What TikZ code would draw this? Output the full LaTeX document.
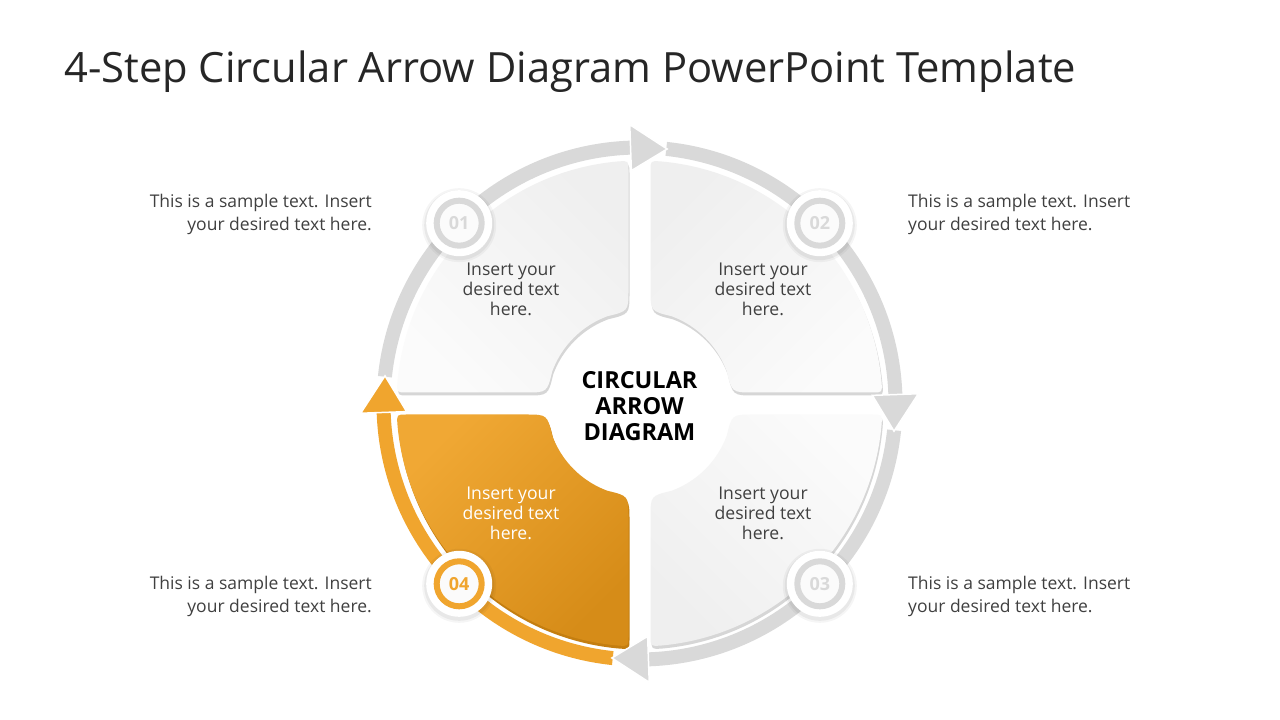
\documentclass[tikz,border=0pt]{standalone}
\usepackage{fontspec}
\setmainfont{Open Sans}
\usetikzlibrary{positioning}
\definecolor{ringgray}{HTML}{D9D9D9}
\definecolor{ringorange}{HTML}{F0A52E}
\definecolor{txtgray}{HTML}{404040}
\definecolor{titlegray}{HTML}{262626}
\definecolor{panellight}{HTML}{FBFBFB}
\definecolor{paneldark}{HTML}{EFEFEF}
\definecolor{panelshadow}{HTML}{D6D6D6}
\definecolor{orangelight}{HTML}{F0A834}
\definecolor{orangedark}{HTML}{D68C18}
\definecolor{orangeshadow}{HTML}{C47E10}
% one quarter panel, first quadrant, centre at origin
\newcommand{\panelshape}{(11,114.35) -- (11,232.75) .. controls (11,242.75) .. (21.0,242.1)
  arc[start angle=85.04,end angle=4.96,radius=243] .. controls (242.75,11) .. (232.75,11)
  -- (114.35,11) .. controls (92.35,11) .. (87.20,32.34)
  arc[start angle=20.35,end angle=69.65,radius=93] .. controls (11,92.35) .. (11,114.35) -- cycle}

\begin{document}
\begin{tikzpicture}[x=1pt,y=1pt,
  sidetext/.style={font=\fontsize{17.5}{23}\selectfont,text=txtgray,inner sep=0pt},
  paneltext/.style={font=\fontsize{17.6}{20}\selectfont,text=txtgray,align=center,inner sep=0pt},
  hubtext/.style={font=\fontsize{23.5}{26}\selectfont\bfseries,text=black,align=center,inner sep=0pt},
  ringline/.style={line width=14pt},
  badge/.style={circle,minimum size=45pt,line width=6pt,fill=panellight,inner sep=0pt,
    font=\fontsize{18}{20}\selectfont\bfseries}]
  \useasboundingbox (0,0) rectangle (1280,720);
  \fill[white] (0,0) rectangle (1280,720);
  \coordinate (c) at (639.5,316.5);

  \node[anchor=north west,inner sep=0pt,text=titlegray,font=\fontsize{41.7}{48}\selectfont] (title)
    at (64,669) {4-Step Circular Arrow Diagram PowerPoint Template};

  % quadrant panels
  \foreach \sx/\sy/\ang/\lite/\dark/\shade in {-1/1/-45/panellight/paneldark/panelshadow,
      1/1/45/panellight/paneldark/panelshadow,
      1/-1/135/panellight/paneldark/panelshadow,
      -1/-1/-135/orangelight/orangedark/orangeshadow}{
    \begin{scope}[shift={(640.5,313.5)},xscale=\sx,yscale=\sy]
      \fill[\shade] \panelshape;
    \end{scope}
    \begin{scope}[shift={(c)},xscale=\sx,yscale=\sy]
      \path[top color=\dark,bottom color=\lite,shading angle=\ang] \panelshape;
    \end{scope}
  }

  % ring arcs, then heads
  \foreach \b/\col in {90/ringgray,0/ringgray,-90/ringgray,-180/ringorange}
    \draw[ringline,\col] ([shift={(\b+84:256)}]c) arc[start angle=\b+84,end angle=\b-1,radius=256];
  \foreach \b/\col in {90/ringgray,0/ringgray,-90/ringgray,-180/ringorange}
    \fill[\col,draw=white,line width=1.5pt,line join=miter]
      ([shift={(\b+2:279)}]c) -- ([shift={(\b-6.2:256)}]c) -- ([shift={(\b+2:233)}]c) -- cycle;

  % badges
  \foreach \a/\num/\col in {135/01/ringgray,45/02/ringgray,-45/03/ringgray,225/04/ringorange}{
    \fill[black,opacity=0.04] ([shift={(\a:255)}]c) ++(0,-2) circle[radius=37];
    \fill[black,opacity=0.05] ([shift={(\a:255)}]c) ++(0,-2) circle[radius=35];
    \fill[white] ([shift={(\a:255)}]c) circle[radius=33];
    \node[badge,draw=\col,text=\col] (badge\num) at ([shift={(\a:255)}]c) {\num};
  }

  \node[hubtext] (hub) at (639.5,314) {CIRCULAR\\ARROW\\DIAGRAM};

  \node[paneltext] (step1) at (511,431) {Insert your\\desired text\\here.};
  \node[paneltext] (step2) at (763,431) {Insert your\\desired text\\here.};
  \node[paneltext] (step3) at (763,207) {Insert your\\desired text\\here.};
  \node[paneltext,text=white] (step4) at (511,207) {Insert your\\desired text\\here.};

  \node[sidetext,anchor=north east,align=right] (note1) at (372,526) {This is a sample text. Insert\\your desired text here.};
  \node[sidetext,anchor=north west,align=left] (note2) at (908,526) {This is a sample text. Insert\\your desired text here.};
  \node[sidetext,anchor=north west,align=left] (note3) at (908,144) {This is a sample text. Insert\\your desired text here.};
  \node[sidetext,anchor=north east,align=right] (note4) at (372,144) {This is a sample text. Insert\\your desired text here.};
\end{tikzpicture}
\end{document}
